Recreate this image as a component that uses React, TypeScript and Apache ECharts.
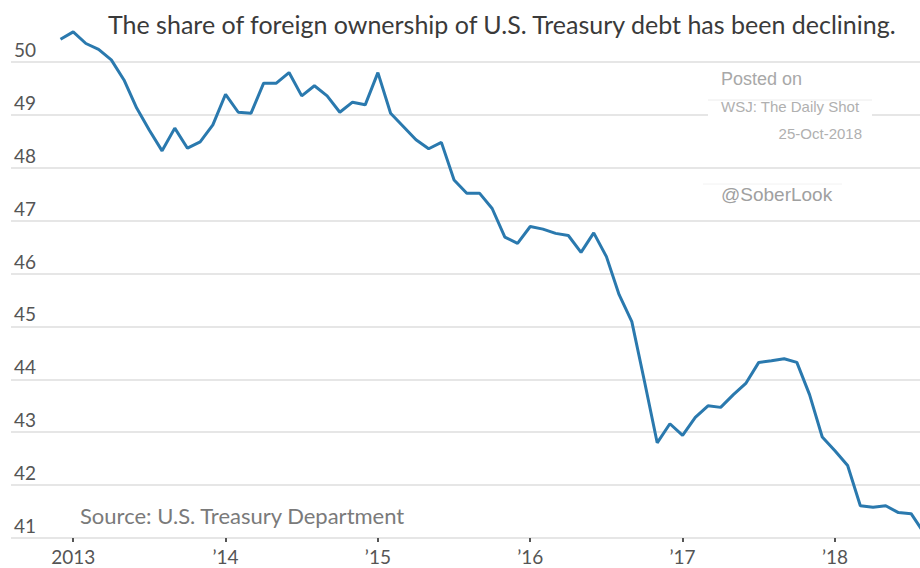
import React, { useEffect, useRef } from "react";
import * as echarts from "echarts";

// Monthly share of foreign ownership of U.S. Treasury debt, %, starting Dec 2012
const firstMonth = { year: 2012, month: 12 };
const shareValues = [
  50.43, 50.57, 50.35, 50.24, 50.04, 49.66, 49.13, 48.71, 48.32, 48.75, 48.37, 48.49, 48.81,
  49.39, 49.05, 49.03, 49.6, 49.6, 49.8, 49.36, 49.55, 49.36, 49.05, 49.24, 49.19,
  49.8, 49.03, 48.78, 48.53, 48.36, 48.48, 47.77, 47.52, 47.52, 47.23, 46.69, 46.57,
  46.89, 46.84, 46.76, 46.72, 46.4, 46.77, 46.32, 45.6, 45.09, 43.96, 42.8, 43.16,
  42.94, 43.28, 43.5, 43.47, 43.71, 43.93, 44.32, 44.35, 44.39, 44.32, 43.71, 42.91,
  42.65, 42.37, 41.61, 41.58, 41.61, 41.48, 41.46, 41.1,
];
const yearTicks = [2013, 2014, 2015, 2016, 2017, 2018];
const yearLabels = ["2013", "\u201914", "\u201915", "\u201916", "\u201917", "\u201918"];
const yTicks = [41, 42, 43, 44, 45, 46, 47, 48, 49, 50];

const titleText = "The share of foreign ownership of U.S. Treasury debt has been declining.";
const sourceText = "Source: U.S. Treasury Department";

// month index relative to Jan 2013
const monthIndex = (y: number, m: number) => (y - 2013) * 12 + (m - 1);

export default function App() {
  const ref = useRef<HTMLDivElement>(null);
  useEffect(() => {
    if (!ref.current) return;
    const chart = echarts.init(ref.current, null, { renderer: "svg" });
    const start = monthIndex(firstMonth.year, firstMonth.month);
    const data = shareValues.map((v, i) => [start + i, v]);
    const tickVals = yearTicks.map((y) => monthIndex(y, 1));
    const annoFont = "'Liberation Sans', Arial, sans-serif";
    chart.setOption({
      animation: false,
      backgroundColor: "#ffffff",
      grid: { left: 11, right: 0, top: 62, bottom: 30, containLabel: false },
      xAxis: {
        type: "value",
        min: -4.9,
        max: 66.7,
        axisLine: { show: false },
        splitLine: { show: false },
        axisTick: {
          show: true,
          customValues: tickVals,
          length: 4,
          lineStyle: { color: "#555", width: 2 },
        },
        axisLabel: {
          customValues: tickVals,
          formatter: (v: number) => {
            const idx = tickVals.indexOf(Math.round(v));
            return idx >= 0 ? yearLabels[idx] : "";
          },
          fontFamily: "Lato, sans-serif",
          fontSize: 19,
          color: "#555",
          margin: 9,
        },
      },
      yAxis: {
        type: "value",
        min: yTicks[0],
        max: yTicks[yTicks.length - 1],
        interval: 1,
        axisLine: { show: false },
        axisTick: { show: false },
        splitLine: { lineStyle: { color: "#e6e6e6", width: 2 } },
        axisLabel: {
          inside: true,
          margin: 3,
          verticalAlign: "bottom",
          padding: [0, 0, 3, 0],
          fontFamily: "Lato, sans-serif",
          fontSize: 19,
          color: "#555",
        },
      },
      series: [
        {
          type: "line",
          data,
          clip: false,
          symbol: "none",
          lineStyle: { color: "#2a79ae", width: 3 },
        },
      ],
      graphic: [
        {
          type: "text",
          left: 108,
          top: 11,
          style: {
            text: titleText,
            fontFamily: "Lato, sans-serif",
            fontSize: 25,
            fill: "#3a3a3a",
          },
        },
        {
          type: "text",
          left: 80,
          top: 504,
          style: {
            text: sourceText,
            fontFamily: "Lato, sans-serif",
            fontSize: 22,
            fill: "#7a7a7a",
          },
        },
        {
          type: "text",
          left: 721,
          top: 70,
          style: { text: "Posted on", fontFamily: annoFont, fontSize: 18, fill: "#a8a8a8" },
        },
        {
          type: "rect",
          shape: { x: 708, y: 100, width: 164, height: 19 },
          style: { fill: "#ffffff" },
          z: 10,
        },
        {
          type: "line",
          shape: { x1: 708, y1: 100, x2: 872, y2: 100 },
          style: { stroke: "#ececec", lineWidth: 1 },
          z: 10,
        },
        {
          type: "text",
          left: 721,
          top: 99,
          z: 11,
          style: { text: "WSJ: The Daily Shot", fontFamily: annoFont, fontSize: 15, fill: "#b0b0b0" },
        },
        {
          type: "text",
          right: 58,
          top: 126,
          style: { text: "25-Oct-2018", fontFamily: annoFont, fontSize: 15, fill: "#b0b0b0" },
        },
        {
          type: "line",
          shape: { x1: 703, y1: 184, x2: 842, y2: 184 },
          style: { stroke: "#f2f2f2", lineWidth: 1 },
        },
        {
          type: "text",
          left: 721,
          top: 185,
          style: { text: "@SoberLook", fontFamily: annoFont, fontSize: 19, fill: "#a0a0a0" },
        },
      ],
    });
    return () => chart.dispose();
  }, []);
  return (
    <div
      ref={ref}
      style={{ position: "fixed", left: 0, top: 0, width: 920, height: 568 }}
    />
  );
}
